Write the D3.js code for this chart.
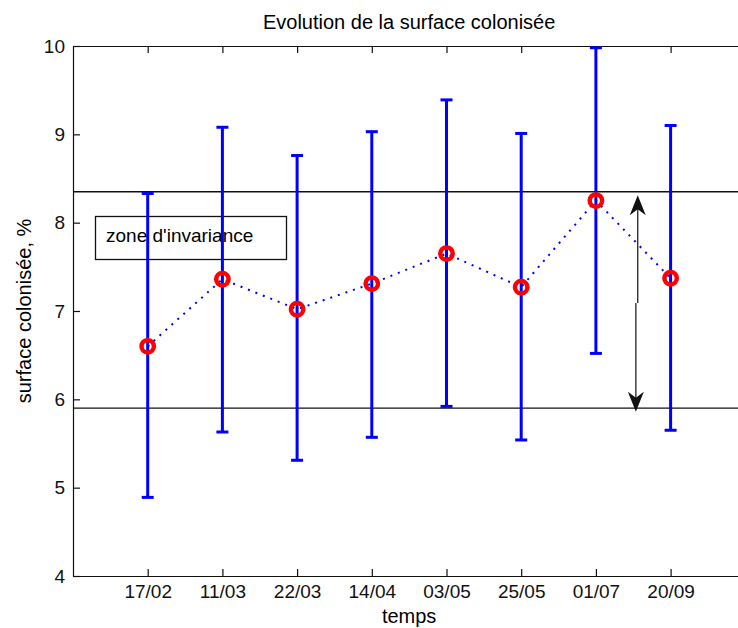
<!DOCTYPE html>
<html>
<head>
<meta charset="utf-8">
<script src="https://d3js.org/d3.v7.min.js"></script>
<style>
  body { margin: 0; background: white; }
</style>
</head>
<body>
<div id="chart"></div>
<script>
// donnees
var dates = ["17/02", "11/03", "22/03", "14/04", "03/05", "25/05", "01/07", "20/09"];
var moyennes = [6.60, 7.36, 7.02, 7.31, 7.65, 7.27, 8.25, 7.37];
var hauts = [8.33, 9.08, 8.76, 9.03, 9.39, 9.01, 9.98, 9.10];
var bas = [4.89, 5.63, 5.31, 5.57, 5.92, 5.54, 6.52, 5.65];
var yTicks = [4, 5, 6, 7, 8, 9, 10];
var limites = [8.35, 5.90];
// double fleche : x des deux moities, puis y haut / milieu / bas
var flecheX = [7.56, 7.535];
var flecheY = [8.31, 7.09, 5.86];

var W = 738, H = 628;
var mLeft = 73, mTop = 46, mBottom = 576, mRight = 745.3;
var font = "'Liberation Sans', Arial, Helvetica, sans-serif";

var svg = d3.select("#chart").append("svg")
    .attr("width", W)
    .attr("height", H)
    .style("display", "block");

var x = d3.scaleLinear().domain([0, 9]).range([mLeft, mRight]);
var y = d3.scaleLinear().domain([4, 10]).range([mBottom, mTop]);

var idx = dates.map(function(d, i) { return i + 1; });

// titre et labels
svg.append("text")
    .attr("x", (mLeft + mRight) / 2).attr("y", 29)
    .attr("text-anchor", "middle")
    .style("font-family", font).style("font-size", "20px")
    .text("Evolution de la surface colonisée");

svg.append("text")
    .attr("x", (mLeft + mRight) / 2).attr("y", 623)
    .attr("text-anchor", "middle")
    .style("font-family", font).style("font-size", "20px")
    .text("temps");

svg.append("text")
    .attr("transform", "translate(31," + ((mTop + mBottom) / 2) + ") rotate(-90)")
    .attr("text-anchor", "middle")
    .style("font-family", font).style("font-size", "20px")
    .text("surface colonisée, %");

// axes (ticks vers l'interieur, style matlab)
var gx = svg.append("g")
    .attr("transform", "translate(0," + mBottom + ")")
    .call(d3.axisBottom(x).tickValues(idx)
        .tickFormat(function(i) { return dates[i - 1]; })
        .tickSizeInner(-7).tickSizeOuter(0).tickPadding(8.5));

var gt = svg.append("g")
    .attr("transform", "translate(0," + mTop + ")")
    .call(d3.axisTop(x).tickValues(idx).tickFormat("")
        .tickSizeInner(-7).tickSizeOuter(0));

var gy = svg.append("g")
    .attr("transform", "translate(" + mLeft + ",0)")
    .call(d3.axisLeft(y).tickValues(yTicks).tickFormat(d3.format("d"))
        .tickSizeInner(-7).tickSizeOuter(0).tickPadding(8));

[gx, gt, gy].forEach(function(g) {
  g.selectAll("path, line").attr("stroke", "#111").attr("stroke-width", 1.2);
  g.selectAll("text")
      .attr("fill", "#111")
      .style("font-family", font)
      .style("font-size", "19px");
});

// lignes de la zone d'invariance
svg.append("g").selectAll("line")
    .data(limites)
    .enter().append("line")
    .attr("x1", mLeft).attr("x2", mRight)
    .attr("y1", function(d) { return y(d); })
    .attr("y2", function(d) { return y(d); })
    .attr("stroke", "#111")
    .attr("stroke-width", 1.3);

// boite de texte
svg.append("rect")
    .attr("x", 95.5).attr("y", 216.5)
    .attr("width", 191).attr("height", 43)
    .attr("fill", "none")
    .attr("stroke", "#111")
    .attr("stroke-width", 1.3);
svg.append("text")
    .attr("x", 106).attr("y", 242)
    .style("font-family", font).style("font-size", "19px")
    .text("zone d'invariance");

// barres d'erreur
var eb = svg.append("g").attr("stroke", "#0000ff").attr("stroke-width", 3);
eb.selectAll(".v").data(idx).enter().append("line")
    .attr("x1", function(i) { return x(i); })
    .attr("x2", function(i) { return x(i); })
    .attr("y1", function(i) { return y(hauts[i - 1]); })
    .attr("y2", function(i) { return y(bas[i - 1]); });
eb.selectAll(".h").data(idx).enter().append("line")
    .attr("x1", function(i) { return x(i) - 6; })
    .attr("x2", function(i) { return x(i) + 6; })
    .attr("y1", function(i) { return y(hauts[i - 1]); })
    .attr("y2", function(i) { return y(hauts[i - 1]); });
eb.selectAll(".b").data(idx).enter().append("line")
    .attr("x1", function(i) { return x(i) - 6; })
    .attr("x2", function(i) { return x(i) + 6; })
    .attr("y1", function(i) { return y(bas[i - 1]); })
    .attr("y2", function(i) { return y(bas[i - 1]); });

// ligne pointillee des moyennes
var line = d3.line()
    .x(function(i) { return x(i); })
    .y(function(i) { return y(moyennes[i - 1]); });
svg.append("path")
    .datum(idx)
    .attr("d", line)
    .attr("fill", "none")
    .attr("stroke", "#0000ff")
    .attr("stroke-width", 2)
    .attr("stroke-dasharray", "2,6");

// marqueurs
svg.append("g").selectAll("circle")
    .data(idx)
    .enter().append("circle")
    .attr("cx", function(i) { return x(i); })
    .attr("cy", function(i) { return y(moyennes[i - 1]); })
    .attr("r", 6.2)
    .attr("fill", "none")
    .attr("stroke", "#ff0000")
    .attr("stroke-width", 4.5);

// double fleche
function tete(px, py, dir) {
  // dir = -1 vers le haut, 1 vers le bas
  var L = 20, w = 8, n = 6;
  return "M" + px + "," + py +
    "L" + (px - w) + "," + (py - dir * L) +
    "L" + px + "," + (py - dir * (L - n)) +
    "L" + (px + w) + "," + (py - dir * L) + "Z";
}
var fl = svg.append("g");
fl.append("line")
    .attr("x1", x(flecheX[0])).attr("x2", x(flecheX[0]))
    .attr("y1", y(flecheY[1])).attr("y2", y(flecheY[0]) + 10)
    .attr("stroke", "#222").attr("stroke-width", 1.3);
fl.append("line")
    .attr("x1", x(flecheX[1])).attr("x2", x(flecheX[1]))
    .attr("y1", y(flecheY[1])).attr("y2", y(flecheY[2]) - 10)
    .attr("stroke", "#222").attr("stroke-width", 1.3);
fl.append("path")
    .attr("d", tete(x(flecheX[0]), y(flecheY[0]), -1))
    .attr("fill", "#111");
fl.append("path")
    .attr("d", tete(x(flecheX[1]), y(flecheY[2]), 1))
    .attr("fill", "#111");
</script>
</body>
</html>
